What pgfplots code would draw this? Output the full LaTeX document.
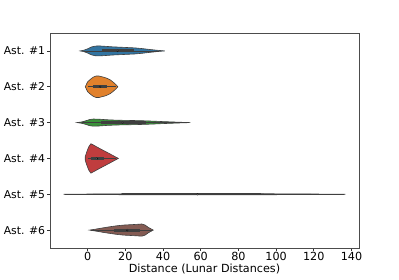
\documentclass[border=0pt]{standalone}
\usepackage{pgfplots}
\pgfplotsset{compat=1.18}
\usepackage{fontspec}
\setmainfont{DejaVu Sans}
\definecolor{cA}{HTML}{3274A1}
\definecolor{cB}{HTML}{E1812C}
\definecolor{cC}{HTML}{3A923A}
\definecolor{cD}{HTML}{C03D3E}
\definecolor{cE}{HTML}{4A4A4A}
\definecolor{cF}{HTML}{845B53}
\definecolor{edge}{HTML}{3F3F3F}
\begin{document}
\begin{tikzpicture}
\useasboundingbox (0,0) rectangle (399pt,279pt);
\begin{axis}[
  at={(50pt,31pt)}, anchor=south west,
  scale only axis, width=309pt, height=215pt,
  xmin=-20, xmax=144, ymin=0.5, ymax=6.5, y dir=reverse,
  xtick={0,20,40,60,80,100,120,140},
  ytick={1,2,3,4,5,6},
  yticklabels={Ast. \#1,Ast. \#2,Ast. \#3,Ast. \#4,Ast. \#5,Ast. \#6},
  xtick pos=left, ytick pos=left,
  tick align=outside, major tick length=3pt,
  tick style={black!80, line width=0.7pt},
  axis line style={black!70, line width=0.8pt},
  xticklabel style={font=\fontsize{11.2}{13}\selectfont, yshift=2pt},
  yticklabel style={font=\fontsize{10.8}{13}\selectfont, xshift=1.5pt},
  /pgf/number format/assume math mode=true,
  xlabel={Distance (Lunar Distances)},
  xlabel style={font=\fontsize{11.2}{13}\selectfont, yshift=4pt},
]
% violins
\addplot[fill=cA, draw=edge, line width=0.6pt] coordinates {
(-4,1) (-2,0.98) (0,0.94) (2,0.89) (4,0.865) (6,0.86) (9,0.87) (13,0.885) (17,0.895) (21,0.905) (25,0.915) (29,0.935) (33,0.96) (37,0.982) (41,1)
(37,1.018) (33,1.04) (29,1.065) (25,1.085) (21,1.095) (17,1.105) (13,1.115) (9,1.13) (6,1.14) (4,1.135) (2,1.11) (0,1.06) (-2,1.02)} --cycle;
\addplot[fill=cB, draw=edge, line width=0.6pt] coordinates {
(-1.3,2) (0,1.86) (1.5,1.79) (3,1.73) (4.5,1.70) (6,1.70) (7.5,1.72) (9,1.74) (10.5,1.77) (12,1.81) (13.5,1.87) (15,1.94) (16,2)
(15,2.06) (13.5,2.13) (12,2.19) (10.5,2.23) (9,2.26) (7.5,2.28) (6,2.30) (4.5,2.30) (3,2.27) (1.5,2.21) (0,2.14)} --cycle;
\addplot[fill=cC, draw=edge, line width=0.6pt] coordinates {
(-5.7,3) (-3,2.98) (-1,2.95) (1,2.915) (3,2.90) (6,2.905) (10,2.92) (15,2.932) (20,2.938) (25,2.943) (30,2.95) (35,2.96) (40,2.972) (45,2.982) (50,2.992) (54.5,3)
(50,3.008) (45,3.018) (40,3.028) (35,3.04) (30,3.05) (25,3.057) (20,3.062) (15,3.068) (10,3.08) (6,3.095) (3,3.10) (1,3.085) (-1,3.05) (-3,3.02)} --cycle;
\addplot[fill=cD, draw=edge, line width=0.6pt] coordinates {
(-1.3,3.95) (-0.5,3.82) (0.5,3.68) (1.7,3.59) (3,3.625) (5,3.683) (7,3.74) (9,3.795) (11,3.851) (13,3.907) (15,3.964) (16.3,4)
(15,4.036) (13,4.093) (11,4.149) (9,4.205) (7,4.26) (5,4.317) (3,4.375) (1.7,4.41) (0.5,4.32) (-0.5,4.18) (-1.3,4.05)} --cycle;
\addplot[fill=cE, draw=edge, line width=0.6pt] coordinates {
(-12.8,5) (0,4.994) (15,4.988) (30,4.984) (60,4.982) (90,4.985) (110,4.99) (125,4.995) (136.7,5)
(125,5.005) (110,5.01) (90,5.015) (60,5.018) (30,5.016) (15,5.012) (0,5.006)} --cycle;
\addplot[fill=cF, draw=edge, line width=0.6pt] coordinates {
(1,6) (4,5.975) (8.4,5.935) (12,5.905) (15.4,5.88) (19,5.86) (22.5,5.85) (26,5.84) (28.7,5.83) (30.5,5.86) (32.2,5.925) (34.8,6)
(32.2,6.075) (30.5,6.14) (28.7,6.17) (26,6.16) (22.5,6.15) (19,6.14) (15.4,6.12) (12,6.095) (8.4,6.065) (4,6.025)} --cycle;
% whiskers
\addplot[edge, line width=0.7pt] coordinates {(-2,1) (38,1)};
\addplot[edge, line width=0.7pt] coordinates {(0,2) (15,2)};
\addplot[edge, line width=0.7pt] coordinates {(-3,3) (52,3)};
\addplot[edge, line width=0.7pt] coordinates {(0,4) (15,4)};
\addplot[edge, line width=0.7pt] coordinates {(-12,5) (136,5)};
\addplot[edge, line width=0.7pt] coordinates {(2,6) (34,6)};
% boxes
\addplot[edge, line width=3pt] coordinates {(7.5,1) (24.5,1)};
\addplot[edge, line width=3pt] coordinates {(3,2) (10,2)};
\addplot[edge, line width=3pt] coordinates {(7,3) (31,3)};
\addplot[edge, line width=3pt] coordinates {(1.7,4) (8.4,4)};
\addplot[edge, line width=1.6pt] coordinates {(18,5) (92,5)};
\addplot[edge, line width=3pt] coordinates {(14,6) (28,6)};
% medians
\addplot[only marks, mark=*, mark size=0.9pt, mark options={fill=white, draw=none}] coordinates {
(16,1) (6.6,2) (18.5,3) (4.9,4) (58.3,5) (21,6)};
\end{axis}
\end{tikzpicture}
\end{document}
